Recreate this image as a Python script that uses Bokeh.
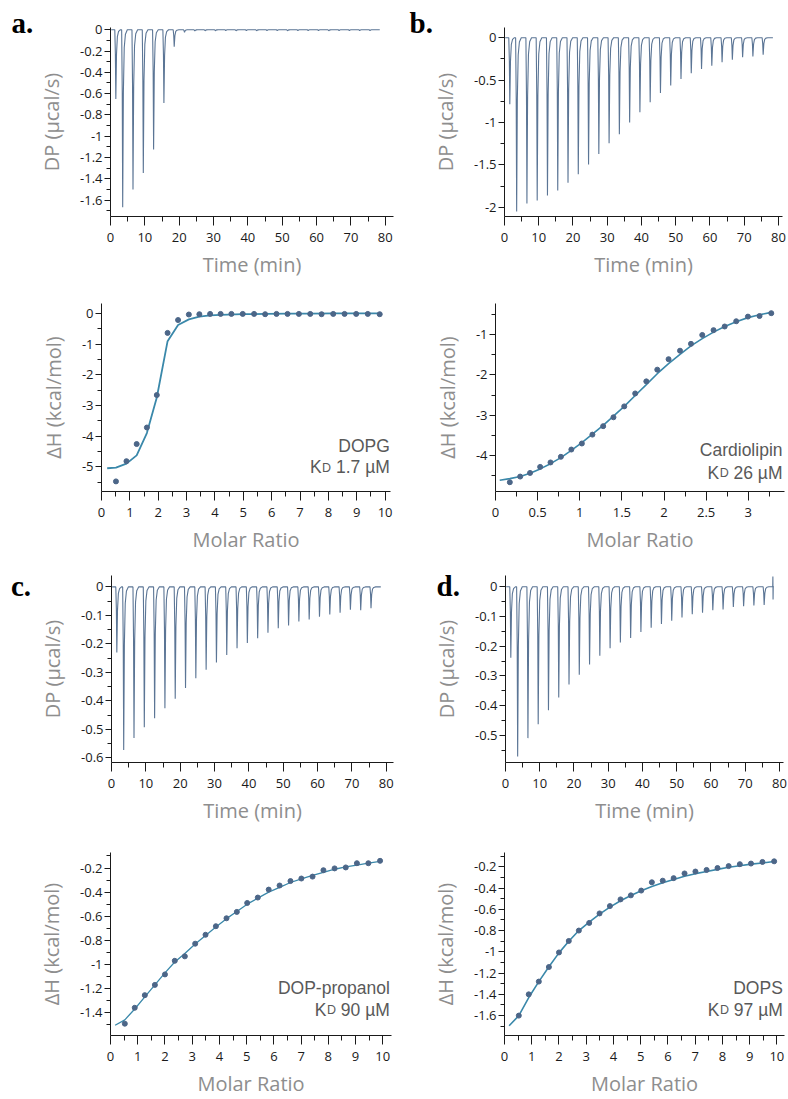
from bokeh.plotting import figure
from bokeh.layouts import row, column
from bokeh.models import FixedTicker, CustomJSTickFormatter, Label, Range1d
from bokeh.embed import file_html
from bokeh.resources import INLINE

# ---------------- data ----------------
inj_t = [1.5, 3.5, 6.5, 9.5, 12.5, 15.5, 18.5, 21.5, 24.5, 27.5, 30.5, 33.5, 36.5,
         39.5, 42.5, 45.5, 48.5, 51.5, 54.5, 57.5, 60.5, 63.5, 66.5, 69.5, 72.5, 75.5]

a_peaks = [-0.65, -1.667, -1.5, -1.346, -1.125, -0.687, -0.16, -0.025, -0.012, -0.01,
           -0.01, -0.008, -0.01, -0.008, -0.01, -0.008, -0.008, -0.01, -0.008, -0.008,
           -0.008, -0.01, -0.008, -0.008, -0.008, -0.008]
b_peaks = [-0.785, -2.05, -1.954, -1.92, -1.86, -1.8, -1.71, -1.61, -1.494, -1.37,
           -1.245, -1.138, -1.0, -0.88, -0.762, -0.651, -0.563, -0.487, -0.42, -0.368,
           -0.33, -0.29, -0.26, -0.23, -0.222, -0.2]
c_peaks = [-0.23, -0.572, -0.53, -0.492, -0.461, -0.426, -0.392, -0.355, -0.32, -0.291,
           -0.265, -0.239, -0.215, -0.197, -0.18, -0.161, -0.145, -0.135, -0.121, -0.114,
           -0.105, -0.097, -0.091, -0.08, -0.082, -0.075]
d_peaks = [-0.239, -0.571, -0.509, -0.462, -0.415, -0.372, -0.329, -0.296, -0.261, -0.232,
           -0.207, -0.187, -0.172, -0.152, -0.138, -0.125, -0.114, -0.103, -0.092, -0.087,
           -0.079, -0.076, -0.068, -0.065, -0.063, -0.061]
d_end_t = [78.05, 78.1, 78.15, 78.2]
d_end_v = [0.0, 0.035, -0.043, 0.0]

a_mr = [0.51, 0.88, 1.24, 1.6, 1.95, 2.33, 2.7, 3.08, 3.45, 3.83, 4.2, 4.58, 4.98, 5.38,
        5.77, 6.17, 6.56, 6.96, 7.36, 7.76, 8.17, 8.57, 8.98, 9.39, 9.81]
a_dh = [-5.48, -4.82, -4.26, -3.72, -2.66, -0.63, -0.21, -0.03, -0.02, -0.01, -0.01,
        -0.01, -0.01, -0.01, -0.02, -0.01, -0.01, -0.01, -0.01, -0.02, -0.01, -0.01,
        -0.01, -0.01, -0.02]
a_fit_x = [0.2, 0.51, 0.88, 1.24, 1.6, 1.95, 2.33, 2.7, 3.08, 3.45, 3.83, 4.2, 4.98,
           5.77, 6.56, 7.36, 8.17, 8.98, 9.81]
a_fit_y = [-5.05, -5.03, -4.9, -4.63, -3.9, -2.74, -0.9, -0.37, -0.19, -0.1, -0.06,
           -0.04, -0.02, -0.01, 0.0, 0.0, 0.01, 0.01, 0.01]

b_mr = [0.17, 0.293, 0.41, 0.53, 0.653, 0.776, 0.9, 1.025, 1.15, 1.278, 1.4, 1.528,
        1.658, 1.79, 1.92, 2.054, 2.19, 2.32, 2.454, 2.588, 2.72, 2.857, 2.996, 3.134, 3.273]
b_dh = [-4.66, -4.52, -4.43, -4.28, -4.17, -4.03, -3.85, -3.7, -3.48, -3.27, -3.05,
        -2.78, -2.46, -2.16, -1.87, -1.61, -1.4, -1.23, -1.01, -0.89, -0.8, -0.67,
        -0.555, -0.54, -0.47]
b_fit_x = [0.05, 0.17, 0.293, 0.41, 0.53, 0.653, 0.776, 0.9, 1.025, 1.15, 1.278, 1.4,
           1.528, 1.658, 1.79, 1.92, 2.054, 2.19, 2.32, 2.454, 2.588, 2.72, 2.857,
           2.996, 3.134, 3.273]
b_fit_y = [-4.61, -4.57, -4.52, -4.44, -4.33, -4.2, -4.05, -3.87, -3.68, -3.47, -3.25,
           -3.02, -2.78, -2.51, -2.24, -1.97, -1.72, -1.49, -1.28, -1.1, -0.94, -0.8,
           -0.68, -0.58, -0.51, -0.45]

c_mr = [0.526, 0.89, 1.26, 1.63, 2.0, 2.36, 2.73, 3.11, 3.49, 3.87, 4.26, 4.64, 5.02,
        5.41, 5.81, 6.21, 6.61, 7.01, 7.42, 7.82, 8.23, 8.64, 9.05, 9.47, 9.9]
c_dh = [-1.492, -1.36, -1.255, -1.17, -1.083, -0.97, -0.933, -0.828, -0.754, -0.683,
        -0.617, -0.564, -0.49, -0.445, -0.379, -0.345, -0.308, -0.287, -0.271, -0.218,
        -0.203, -0.195, -0.16, -0.16, -0.14]
c_fit_x = [0.17, 0.526, 0.89, 1.26, 1.63, 2.0, 2.36, 2.73, 3.11, 3.49, 3.87, 4.26, 4.64,
           5.02, 5.41, 5.81, 6.21, 6.61, 7.01, 7.42, 7.82, 8.23, 8.64, 9.05, 9.47, 9.9]
c_fit_y = [-1.505, -1.46, -1.37, -1.27, -1.17, -1.07, -0.98, -0.91, -0.83, -0.76, -0.69,
           -0.62, -0.56, -0.5, -0.45, -0.4, -0.36, -0.32, -0.29, -0.26, -0.235, -0.21,
           -0.19, -0.175, -0.16, -0.145]

d_mr = [0.526, 0.89, 1.26, 1.63, 2.0, 2.36, 2.73, 3.11, 3.49, 3.87, 4.26, 4.64, 5.02,
        5.41, 5.81, 6.21, 6.61, 7.01, 7.42, 7.82, 8.23, 8.64, 9.05, 9.47, 9.9]
d_dh = [-1.6, -1.4, -1.28, -1.143, -1.006, -0.898, -0.8, -0.728, -0.639, -0.57, -0.507,
        -0.469, -0.424, -0.346, -0.331, -0.307, -0.263, -0.245, -0.23, -0.212, -0.194,
        -0.176, -0.17, -0.155, -0.149]
d_fit_x = [0.17, 0.526, 0.89, 1.26, 1.63, 2.0, 2.36, 2.73, 3.11, 3.49, 3.87, 4.26, 4.64,
           5.02, 5.41, 5.81, 6.21, 6.61, 7.01, 7.42, 7.82, 8.23, 8.64, 9.05, 9.47, 9.9]
d_fit_y = [-1.695, -1.6, -1.43, -1.28, -1.14, -1.01, -0.9, -0.8, -0.72, -0.645, -0.58,
           -0.52, -0.47, -0.425, -0.385, -0.35, -0.32, -0.29, -0.265, -0.245, -0.225,
           -0.205, -0.19, -0.175, -0.165, -0.15]

# tick values
time_ticks = [0, 10, 20, 30, 40, 50, 60, 70, 80]
time_minor = [5, 15, 25, 35, 45, 55, 65, 75]
mr10_ticks = [0, 1, 2, 3, 4, 5, 6, 7, 8, 9, 10]
mr10_minor = [0.5, 1.5, 2.5, 3.5, 4.5, 5.5, 6.5, 7.5, 8.5, 9.5]
mr3_ticks = [0, 0.5, 1, 1.5, 2, 2.5, 3]
mr3_minor = [0.25, 0.75, 1.25, 1.75, 2.25, 2.75, 3.25]
a_dp_ticks = [0, -0.2, -0.4, -0.6, -0.8, -1, -1.2, -1.4, -1.6]
a_dp_minor = [-0.1, -0.3, -0.5, -0.7, -0.9, -1.1, -1.3, -1.5, -1.7]
b_dp_ticks = [0, -0.5, -1, -1.5, -2]
b_dp_minor = [-0.25, -0.75, -1.25, -1.75]
c_dp_ticks = [0, -0.1, -0.2, -0.3, -0.4, -0.5, -0.6]
c_dp_minor = [-0.05, -0.15, -0.25, -0.35, -0.45, -0.55]
d_dp_ticks = [0, -0.1, -0.2, -0.3, -0.4, -0.5]
d_dp_minor = [-0.05, -0.15, -0.25, -0.35, -0.45, -0.55]
a_dh_ticks = [0, -1, -2, -3, -4, -5]
a_dh_minor = [-0.5, -1.5, -2.5, -3.5, -4.5, -5.5]
b_dh_ticks = [-1, -2, -3, -4]
b_dh_minor = [-0.5, -1.5, -2.5, -3.5, -4.5]
c_dh_ticks = [-0.2, -0.4, -0.6, -0.8, -1, -1.2, -1.4]
c_dh_minor = [-0.1, -0.3, -0.5, -0.7, -0.9, -1.1, -1.3, -1.5]
d_dh_ticks = [-0.2, -0.4, -0.6, -0.8, -1, -1.2, -1.4, -1.6]
d_dh_minor = [-0.1, -0.3, -0.5, -0.7, -0.9, -1.1, -1.3, -1.5, -1.7]

names = ["DOPG", "Cardiolipin", "DOP-propanol", "DOPS"]
kd_text = ["1.7 µM", "26 µM", "90 µM", "97 µM"]
letters = ["a.", "b.", "c.", "d."]

# ---------------- styling ----------------
DP_COLOR = "#5b7595"
FIT_COLOR = "#3a88aa"
DOT_COLOR = "#4c6688"
LABEL_GRAY = "#8e8e8e"
ANNOT_GRAY = "#595959"
TICK_FONT = "Open Sans"
ANNOT_SIZE = 17.5
SUB_SIZE = 12.5
ARIAL_W = {"0": .556, "1": .556, "2": .556, "3": .556, "4": .556, "5": .556, "6": .556,
           "7": .556, "8": .556, "9": .556, ".": .278, " ": .278, "µ": .576, "M": .833}

SHAPE_DT = [-0.25, -0.08, 0.05, 0.25, 0.5, 0.85, 1.4]
SHAPE_FR = [0.0, 0.35, 1.0, 0.35, 0.1, 0.025, 0.0]

fmt = CustomJSTickFormatter(code="return String(Math.round(tick*1000)/1000);")

try:
    Label(x=0, y=0, x_units="canvas", y_units="canvas", text="")
    LETTER_UNITS = "canvas"
except Exception:
    LETTER_UNITS = "screen"


def dp_trace(peaks, extra_t=None, extra_v=None):
    xs, ys = [0.2], [0.0]
    for t, pk in zip(inj_t, peaks):
        for dt, fr in zip(SHAPE_DT, SHAPE_FR):
            xs.append(t + dt)
            ys.append(pk * fr)
    if extra_t:
        xs += extra_t
        ys += extra_v
    xs.append(78.4)
    ys.append(0.0)
    return xs, ys


def make_fig(w, h, mb, xr, yr, xt, xm, yt, ym, xlabel, ylabel):
    p = figure(width=w, height=h, x_range=Range1d(*xr), y_range=Range1d(*yr),
               output_backend="svg", toolbar_location=None,
               min_border_left=mb[0], min_border_right=mb[1],
               min_border_top=mb[2], min_border_bottom=mb[3])
    p.outline_line_color = None
    p.xgrid.visible = False
    p.ygrid.visible = False
    p.background_fill_color = "white"
    p.border_fill_color = "white"
    p.xaxis.ticker = FixedTicker(ticks=xt, minor_ticks=xm)
    p.yaxis.ticker = FixedTicker(ticks=yt, minor_ticks=ym)
    for ax in (p.xaxis[0], p.yaxis[0]):
        ax.formatter = fmt
        ax.axis_line_color = "#1a1a1a"
        ax.major_tick_line_color = "#1a1a1a"
        ax.minor_tick_line_color = "#1a1a1a"
        ax.major_tick_in = 0
        ax.minor_tick_in = 0
        ax.major_label_text_font = TICK_FONT
        ax.major_label_text_font_size = "13px"
        ax.major_label_text_color = "#1a1a1a"
        ax.axis_label_text_font = TICK_FONT
        ax.axis_label_text_font_size = "20px"
        ax.axis_label_text_font_style = "normal"
        ax.axis_label_text_color = LABEL_GRAY
    p.xaxis.axis_label = xlabel
    p.yaxis.axis_label = ylabel
    p.xaxis.major_tick_out = 9
    p.xaxis.minor_tick_out = 5
    p.yaxis.major_tick_out = 6
    p.yaxis.minor_tick_out = 4
    p.xaxis.major_label_standoff = 7
    p.xaxis.axis_label_standoff = 6
    p.yaxis.major_label_standoff = 2
    p.yaxis.axis_label_standoff = 12
    return p


def add_letter(p, txt, cx, cy):
    lab = Label(x=cx, y=cy, x_units=LETTER_UNITS, y_units=LETTER_UNITS, text=txt,
                text_font="Liberation Serif", text_font_style="bold",
                text_font_size="29px", text_color="black",
                text_baseline="alphabetic", text_align="left")
    p.add_layout(lab, "left")


def add_annot(p, name, kd, right, y1, y2):
    common = dict(x_units="screen", y_units="screen", text_font="Liberation Sans",
                  text_color=ANNOT_GRAY, text_baseline="alphabetic", text_align="right")
    kd_w = sum(ARIAL_W.get(ch, 0.556) for ch in kd) * ANNOT_SIZE
    gap = ARIAL_W[" "] * ANNOT_SIZE
    sub_w = 0.722 * SUB_SIZE
    p.add_layout(Label(x=right, y=y1, text=name, text_font_size=f"{ANNOT_SIZE}px", **common))
    p.add_layout(Label(x=right, y=y2, text=kd, text_font_size=f"{ANNOT_SIZE}px", **common))
    p.add_layout(Label(x=right - kd_w - gap, y=y2 - 0.5, text="D",
                       text_font_size=f"{SUB_SIZE}px", **common))
    p.add_layout(Label(x=right - kd_w - gap - sub_w - 0.5, y=y2, text="K",
                       text_font_size=f"{ANNOT_SIZE}px", **common))


DP_LABEL = "DP (µcal/s)"
DH_LABEL = "ΔH (kcal/mol)"
T_LABEL = "Time (min)"
MR_LABEL = "Molar Ratio"

# ----- row 1 (page y 0..280) -----
fa1 = make_fig(394, 280, (110, 1, 27, 60), (0, 82.4), (-1.754, 0.021),
               time_ticks, time_minor, a_dp_ticks, a_dp_minor, T_LABEL, DP_LABEL)
x, y = dp_trace(a_peaks)
fa1.line(x, y, color=DP_COLOR, line_width=1.1)
add_letter(fa1, letters[0], 11, 22.5)

fb1 = make_fig(394, 280, (110, 6, 23, 63), (0, 81.2), (-2.108, 0.12),
               time_ticks, time_minor, b_dp_ticks, b_dp_minor, T_LABEL, DP_LABEL)
x, y = dp_trace(b_peaks)
fb1.line(x, y, color=DP_COLOR, line_width=1.1)
add_letter(fb1, letters[1], 15, 22.5)

# ----- row 2 (page y 280..555) -----
fa2 = make_fig(394, 275, (101, 4, 23, 58), (0, 10.19), (-5.81, 0.33),
               mr10_ticks, mr10_minor, a_dh_ticks, a_dh_minor, MR_LABEL, DH_LABEL)
fa2.line(a_fit_x, a_fit_y, color=FIT_COLOR, line_width=1.8)
fa2.scatter(a_mr, a_dh, size=5, color=DOT_COLOR)
add_annot(fa2, names[0], kd_text[0], 288.3, 46, 24.3)

fb2 = make_fig(394, 275, (101, 4, 20, 63), (0, 3.43), (-4.89, -0.23),
               mr3_ticks, mr3_minor, b_dh_ticks, b_dh_minor, MR_LABEL, DH_LABEL)
fb2.line(b_fit_x, b_fit_y, color=FIT_COLOR, line_width=1.6)
fb2.scatter(b_mr, b_dh, size=5, color=DOT_COLOR)
add_annot(fb2, names[1], kd_text[1], 287, 41.3, 18.7)

# ----- row 3 (page y 555..826) -----
fc1 = make_fig(394, 271, (111, 1, 20, 58), (0, 82.1), (-0.616, 0.04),
               time_ticks, time_minor, c_dp_ticks, c_dp_minor, T_LABEL, DP_LABEL)
x, y = dp_trace(c_peaks)
fc1.line(x, y, color=DP_COLOR, line_width=1.1)
add_letter(fc1, letters[2], 10.5, 30)

fd1 = make_fig(394, 271, (111, 5, 20, 58), (0, 81.2), (-0.591, 0.038),
               time_ticks, time_minor, d_dp_ticks, d_dp_minor, T_LABEL, DP_LABEL)
x, y = dp_trace(d_peaks, d_end_t, d_end_v)
fd1.line(x, y, color=DP_COLOR, line_width=1.1)
add_letter(fd1, letters[3], 42, 30)

# ----- row 4 (page y 826..1099) -----
fc2 = make_fig(394, 273, (110, 3, 26, 55), (0, 10.32), (-1.59, -0.071),
               mr10_ticks, mr10_minor, c_dh_ticks, c_dh_minor, MR_LABEL, DH_LABEL)
fc2.line(c_fit_x, c_fit_y, color=FIT_COLOR, line_width=1.3)
fc2.scatter(c_mr, c_dh, size=5, color=DOT_COLOR)
add_annot(fc2, names[2], kd_text[2], 279.3, 47.3, 25.7)

fd2 = make_fig(394, 273, (110, 4, 26, 55), (0, 10.28), (-1.787, -0.066),
               mr10_ticks, mr10_minor, d_dh_ticks, d_dh_minor, MR_LABEL, DH_LABEL)
fd2.line(d_fit_x, d_fit_y, color=FIT_COLOR, line_width=1.6)
fd2.scatter(d_mr, d_dh, size=5, color=DOT_COLOR)
add_annot(fd2, names[3], kd_text[3], 278.3, 47.3, 25.7)

layout = column(row(fa1, fb1, spacing=0), row(fa2, fb2, spacing=0),
                row(fc1, fd1, spacing=0), row(fc2, fd2, spacing=0), spacing=0)

open("out.html", "w").write(file_html(layout, INLINE))
